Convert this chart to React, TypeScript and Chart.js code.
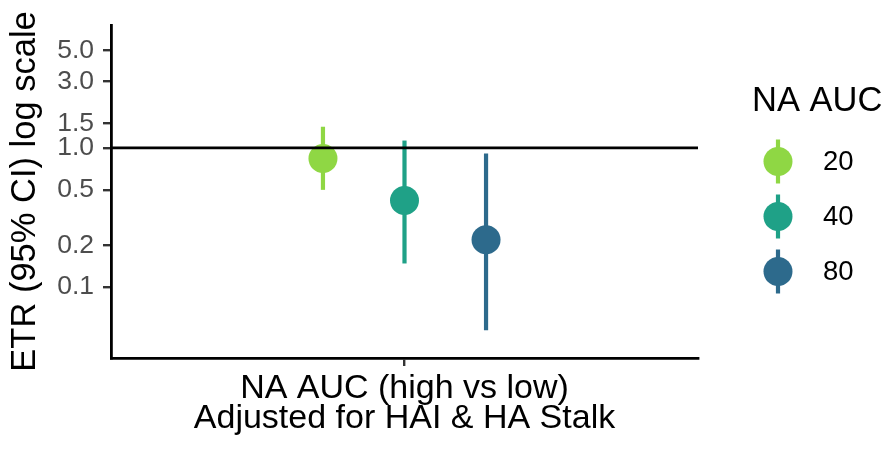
import React, { useEffect, useRef } from 'react';
import { Chart, registerables } from 'chart.js';

Chart.register(...registerables);

// ---- data ----
const groups = ['20', '40', '80'];
const estimates = [0.84, 0.42, 0.219];
const lower = [0.5, 0.148, 0.049];
const upper = [1.42, 1.13, 0.912];
const dodge = [-0.1667, 0, 0.1667];
const colors = ['#8FD744', '#1FA187', '#2D6A8C'];
const yTicks = [0.1, 0.2, 0.5, 1.0, 1.5, 3.0, 5.0];
const categoryX = 1;
const refValue = 1;
const xTitle = ['NA AUC (high vs low)', 'Adjusted for HAI & HA Stalk'];
const yTitle = 'ETR (95% CI) log scale';
const legendTitle = 'NA AUC';

const FONT = '"Liberation Sans", Arial, Helvetica, sans-serif';

const errorBarPlugin = {
  id: 'errorBars',
  beforeDatasetsDraw(chart: any) {
    const { ctx, scales } = chart;
    const xs = scales.x;
    const ys = scales.y;
    ctx.save();
    ctx.lineWidth = 4.2;
    ctx.lineCap = 'butt';
    groups.forEach((_, i) => {
      const x = xs.getPixelForValue(categoryX + dodge[i]);
      ctx.strokeStyle = colors[i];
      ctx.beginPath();
      ctx.moveTo(x, ys.getPixelForValue(lower[i]));
      ctx.lineTo(x, ys.getPixelForValue(upper[i]));
      ctx.stroke();
    });
    ctx.restore();
  },
};

const refLinePlugin = {
  id: 'refLine',
  afterDatasetsDraw(chart: any) {
    const { ctx, chartArea, scales } = chart;
    const y = scales.y.getPixelForValue(refValue);
    ctx.save();
    ctx.strokeStyle = '#000';
    ctx.lineWidth = 2.8;
    ctx.beginPath();
    ctx.moveTo(chartArea.left, y);
    ctx.lineTo(chartArea.right, y);
    ctx.stroke();
    ctx.restore();
  },
};

const legendPlugin = {
  id: 'customLegend',
  afterDraw(chart: any) {
    const { ctx, chartArea } = chart;
    const left = chartArea.right + 54;
    ctx.save();
    ctx.fillStyle = '#000';
    ctx.font = `34.5px ${FONT}`;
    ctx.textAlign = 'left';
    ctx.textBaseline = 'middle';
    ctx.fillText(legendTitle, left, 101);
    groups.forEach((g, i) => {
      const cx = chartArea.right + 80;
      const cy = 161.5 + i * 55;
      ctx.strokeStyle = colors[i];
      ctx.lineWidth = 4.2;
      ctx.beginPath();
      ctx.moveTo(cx, cy - 22);
      ctx.lineTo(cx, cy + 22);
      ctx.stroke();
      ctx.fillStyle = colors[i];
      ctx.beginPath();
      ctx.arc(cx, cy, 14.5, 0, Math.PI * 2);
      ctx.fill();
      ctx.fillStyle = '#000';
      ctx.font = `27.5px ${FONT}`;
      ctx.fillText(g, chartArea.right + 125, cy + 1);
    });
    ctx.restore();
  },
};

export default function App() {
  const canvasRef = useRef<HTMLCanvasElement | null>(null);

  useEffect(() => {
    document.body.style.margin = '0';
    const canvas = canvasRef.current;
    if (!canvas) return;
    const chart = new Chart(canvas, {
      type: 'scatter',
      data: {
        datasets: groups.map((g, i) => ({
          label: g,
          data: [{ x: categoryX + dodge[i], y: estimates[i] }],
          backgroundColor: colors[i],
          borderWidth: 0,
          pointRadius: 14.5,
          pointHoverRadius: 14.5,
        })),
      },
      options: {
        responsive: false,
        animation: false,
        layout: { padding: { left: 0, right: 185, top: 23, bottom: 0 } },
        plugins: {
          legend: { display: false },
          tooltip: { enabled: false },
        },
        scales: {
          x: {
            type: 'linear',
            min: 0.4,
            max: 1.6,
            afterBuildTicks: (scale: any) => {
              scale.ticks = [{ value: categoryX }];
            },
            afterFit: (scale: any) => {
              scale.height = 91;
            },
            ticks: { display: false },
            grid: {
              display: true,
              drawOnChartArea: false,
              drawTicks: true,
              tickLength: 8,
              color: '#333',
              lineWidth: 2.4,
            },
            border: { display: true, color: '#000', width: 2.8 },
            title: {
              display: true,
              text: xTitle,
              color: '#000',
              font: { family: FONT, size: 34, lineHeight: 0.88 },
              padding: { top: 0, bottom: 15 },
            },
          },
          y: {
            type: 'logarithmic',
            min: 0.031,
            max: 7.65,
            afterBuildTicks: (scale: any) => {
              scale.ticks = yTicks.map((v) => ({ value: v }));
            },
            afterFit: (scale: any) => {
              scale.width = 111;
            },
            ticks: {
              autoSkip: false,
              color: '#4D4D4D',
              padding: 9,
              font: { family: FONT, size: 26.5 },
              callback: (v: any) => Number(v).toFixed(1),
            },
            grid: {
              display: true,
              drawOnChartArea: false,
              drawTicks: true,
              tickLength: 8,
              color: '#333',
              lineWidth: 2.4,
            },
            border: { display: true, color: '#000', width: 2.8 },
            title: {
              display: true,
              text: yTitle,
              color: '#000',
              font: { family: FONT, size: 34.5, lineHeight: 1.2 },
              padding: { top: 5, bottom: 0 },
            },
          },
        },
      },
      plugins: [errorBarPlugin, refLinePlugin, legendPlugin],
    });
    return () => chart.destroy();
  }, []);

  return (
    <div style={{ width: 883, height: 449, background: '#fff' }}>
      <canvas ref={canvasRef} width={883} height={449} />
    </div>
  );
}
